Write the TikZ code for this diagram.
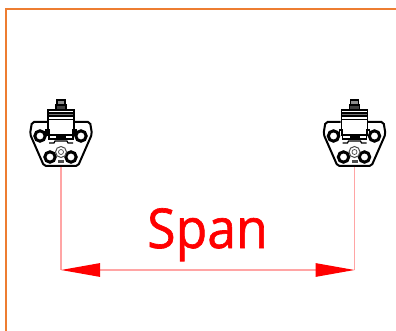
\documentclass[tikz,border=0pt]{standalone}
\usepackage{fontspec}
\setmainfont{Open Sans}
\usetikzlibrary{arrows.meta}
\definecolor{frameorange}{RGB}{237,125,49}
\definecolor{spanpink}{RGB}{255,165,165}
\tikzset{
	frameline/.style={color=frameorange,line width=2.4pt},
	spanline/.style={color=spanpink,line width=1.2pt},
	spanarrow/.style={spanline,{Triangle[color=red,length=39pt,width=13.5pt]}-{Triangle[color=red,length=39pt,width=13.5pt]}},
	spanlabel/.style={color=red,font=\fontsize{55pt}{60pt}\selectfont\addfontfeature{FakeBold=1.2},inner sep=0pt,xscale=.94},
	pics/clamp/.style={code={
		% top bolt
		\draw[line width=1.6pt,fill=black!45] (-4,100) rectangle (4,105);
		\draw[line width=1.6pt,fill=black!75] (-5,105) rectangle (5,110);
		% plate
		\draw[line width=2pt,rounded corners=2pt] (-14,122)--(-29,122)--(-31,134)--(-17,166)--(17,166)--(31,134)--(29,122)--(13,122);
		% clamp body
		\draw[line width=1.2pt,fill=white] (-13,110) rectangle (13,135);
		\draw[line width=1.2pt,fill=black!55] (-13,113) rectangle (13,116);
		\draw[line width=.7pt] (-13,119)--(13,119);
		\draw[line width=1.2pt] (-15,136)--(-15,130)--(-12,130)--(-12,139)--(12,139)--(12,130)--(15,130)--(15,136);
		\fill (-5,136) rectangle (5,140);
		\draw[line width=1.2pt] (-12,143)--(-7,143)--(-6,141)--(6,141)--(7,143)--(12,143);
		% rollers
		\foreach \px/\py in {-21/136,20/136,-11/157,10/157}{
			\draw[line width=3pt,fill=white] (\px,\py) circle (5.2);
		}
		\draw[line width=1pt,color=black!70,fill=white] (0,152) circle (5.5);
		\draw[line width=.7pt,color=black!70] (0,152) circle (2.5);
		\fill[black!70] (-3,160) rectangle (3,163);
		\coordinate (-foot) at (0,167);
	}}
}
\begin{document}
\begin{tikzpicture}[x=1pt,y=-1pt]
	\useasboundingbox (0,0) rectangle (396,331);
	\draw[frameline] (396,9)--(6,9)--(6,331);
	\pic (left) at (61,0) {clamp};
	\pic (right) at (354.5,0) {clamp};
	\coordinate (spanL) at (61,270);
	\coordinate (spanR) at (354.5,270);
	\draw[spanline] (left-foot)--(spanL);
	\draw[spanline] (right-foot)--(spanR);
	\draw[spanarrow] (spanL)--(spanR);
	\node[spanlabel,anchor=base] (span) at (207.5,248) {Span};
\end{tikzpicture}
\end{document}
